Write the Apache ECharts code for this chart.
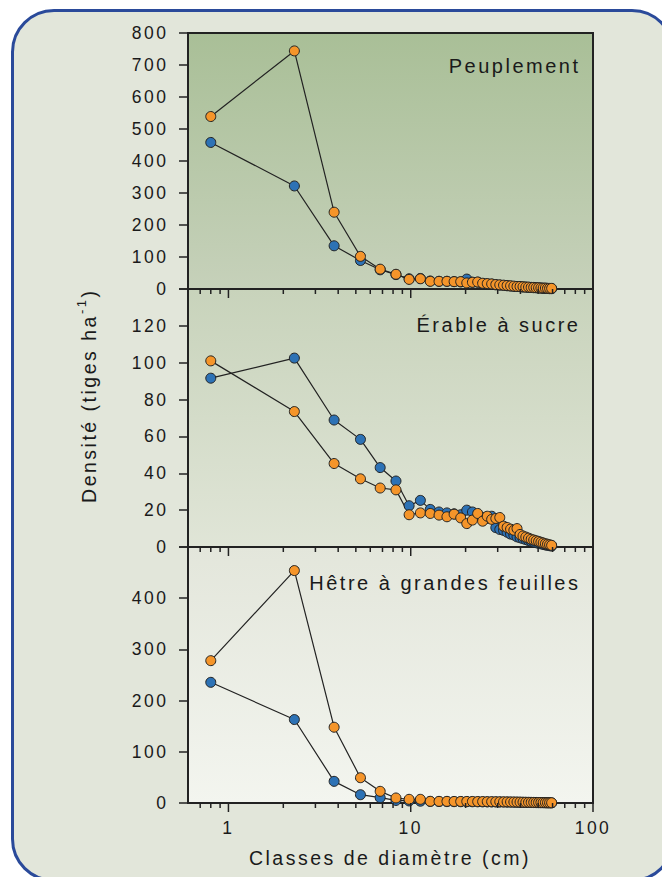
<!DOCTYPE html>
<html><head><meta charset="utf-8">
<script src="https://cdn.jsdelivr.net/npm/echarts@6/dist/echarts.min.js"></script>
<style>
html,body{margin:0;padding:0;background:#ffffff;overflow:hidden;width:662px;height:877px;}
#frame{position:absolute;left:11px;top:9px;width:664px;height:873px;box-sizing:border-box;border:3px solid #2a4a9a;border-radius:43px;background:#e2e6da;}
#chart{position:absolute;left:0;top:0;width:662px;height:877px;}
#chart text{letter-spacing:2.5px;}
</style></head><body>
<div id="frame"></div><div id="chart"></div>
<script>
// ---- data ----
const classes = [0.8, 2.3, 3.8, 5.3, 6.8, 8.3, 9.8, 11.3, 12.8, 14.3, 15.8, 17.3, 18.8, 20.3, 21.8, 23.3, 24.8, 26.3, 27.8, 29.3, 30.8, 32.3, 33.8, 35.3, 36.8, 38.3, 39.8, 41.3, 42.8, 44.3, 45.8, 47.3, 48.8, 50.3, 51.8, 53.3, 54.8, 56.3, 57.8, 59.3];

const peuplementBlue = [458, 322, 135, 89, 60, 45, 32, 33, 25, 24, 24, 23, 22, 31, 21, 21, 17, 16, 15, 13, 12, 11, 10, 9, 8, 8, 7, 6, 6, 5, 5, 4, 4, 3, 3, 2, 2, 2, 1, 1];
const peuplementOrange = [539, 744, 240, 102, 62, 46, 30, 32, 24, 24, 24, 23, 23, 19, 21, 22, 18, 17, 16, 14, 13, 12, 11, 10, 9, 8, 8, 7, 6, 6, 5, 5, 4, 4, 3, 3, 3, 2, 2, 2];

const erableBlue = [91.6, 102.5, 68.9, 58.4, 43.1, 35.8, 22.4, 25.3, 20.4, 19, 18.5, 18, 17.5, 20, 19, 17, 16, 15.5, 16.7, 10.5, 9.5, 9, 8, 7, 6.5, 5.5, 5, 4.5, 4, 3.5, 3.1, 2.7, 2.3, 2, 1.7, 1.4, 1.1, 0.9, 0.7, 0.5];
const erableOrange = [101, 73.5, 45.3, 37, 32, 31, 17.5, 18.5, 18.2, 17.3, 16.4, 17.8, 15.8, 12.7, 14.6, 18.2, 14, 16.7, 15, 15.5, 16, 11.3, 10.6, 9.7, 9.1, 10, 6.8, 6.0, 5.4, 4.8, 4.2, 3.8, 3.4, 3.0, 2.6, 2.2, 1.8, 1.5, 1.2, 0.9];

const hetreBlue = [235.7, 163, 42.3, 16.2, 10.4, 5, 4, 3.5, 3, 2.8, 2.7, 2.6, 2.5, 2.5, 2.4, 2.3, 2.2, 2.1, 2, 2, 1.9, 1.8, 1.7, 1.6, 1.5, 1.4, 1.3, 1.2, 1.1, 1, 0.9, 0.8, 0.7, 0.6, 0.5, 0.5, 0.4, 0.3, 0.3, 0.2];
const hetreOrange = [278, 454, 148, 49.4, 22.8, 9.8, 7.2, 7.2, 3.3, 3.2, 3.2, 3, 3, 3, 3, 2.8, 2.8, 2.6, 2.6, 2.5, 2.4, 2.3, 2.2, 2.1, 2, 1.9, 1.8, 1.6, 1.5, 1.4, 1.3, 1.2, 1.1, 1, 0.9, 0.8, 0.7, 0.6, 0.5, 0.5];

const panelNames = ['Peuplement', 'Érable à sucre', 'Hêtre à grandes feuilles'];
const yMax = [800, 140, 500];
const yStep = [100, 20, 100];
const xMin = 0.6, xMax = 100;
const xTickValues = [0.7, 0.8, 0.9, 1, 2, 3, 4, 5, 6, 7, 8, 9, 10, 20, 30, 40, 50, 60, 70, 80, 90, 100];
const xTitle = 'Classes de diamètre (cm)';
const yTitleMain = 'Densité (tiges ha';
const yTitleSup = '-1';
const yTitleEnd = ')';

// ---- layout / style ----
const FONT = '"Liberation Sans", Arial, sans-serif';
const LS = 2.5;
const TXT = '#1a1a1a';
const ORANGE = '#f5952a', BLUE = '#2d72b5';
const grids = [
  {left: 188, top: 33, width: 405, height: 256},
  {left: 188, top: 289, width: 405, height: 258},
  {left: 188, top: 547, width: 405, height: 256}
];
const bg = [
  ['#a9bf97', '#c6d1ba'],
  ['#c8d3bb', '#e0e5d7'],
  ['#e3e6db', '#f3f5ef']
];
const seriesData = [
  [peuplementBlue, peuplementOrange],
  [erableBlue, erableOrange],
  [hetreBlue, hetreOrange]
];
const isPow10 = v => Math.abs(Math.log10(v) - Math.round(Math.log10(v))) < 1e-6;

function textW(str, size) {
  const c = document.createElement('canvas').getContext('2d');
  c.font = size + 'px ' + FONT;
  let has = false;
  try { if ('letterSpacing' in c) { c.letterSpacing = LS + 'px'; has = true; } } catch (e) {}
  let w = c.measureText(str).width;
  if (!has) w += LS * str.length;
  return w;
}

const chart = echarts.init(document.getElementById('chart'), null, {renderer: 'svg', width: 662, height: 877});

const series = [];
grids.forEach((g, i) => {
  const [b, o] = seriesData[i];
  [[b, BLUE, 'blue'], [o, ORANGE, 'orange']].forEach(([arr, col, nm]) => {
    series.push({
      type: 'line', name: nm + i, xAxisIndex: i, yAxisIndex: i,
      data: classes.map((c, k) => [c, arr[k]]),
      symbol: 'circle', symbolSize: 10, showSymbol: true, showAllSymbol: true,
      lineStyle: {color: '#222', width: 1.2},
      itemStyle: {color: col, borderColor: '#222', borderWidth: 1},
      emphasis: {disabled: true}, silent: true, clip: false
    });
  });
  series.push({
    type: 'custom', xAxisIndex: i, yAxisIndex: i, silent: true, clip: false, z: 5,
    data: xTickValues.map(v => [v, 0]),
    encode: {x: 0, y: 1},
    renderItem: (params, api) => {
      const v = api.value(0);
      const p = api.coord([v, 0]);
      const len = isPow10(v) ? 9 : 5;
      return {type: 'line', shape: {x1: p[0], y1: p[1], x2: p[0], y2: p[1] + len},
              style: {stroke: '#222', lineWidth: 1.5}};
    }
  });
});

// y-axis title pieces
const yFs = 19.5, supFs = 13;
const wA = textW(yTitleMain, yFs), wB = textW(yTitleSup, supFs), wC = textW(yTitleEnd, yFs);
const tot = wA + wB + wC;
const st = -tot / 2 + LS / 2;

const option = {
  animation: false,
  textStyle: {fontFamily: FONT},
  grid: grids.map((g, i) => ({
    left: g.left, top: g.top, width: g.width, height: g.height,
    show: true, borderColor: '#222', borderWidth: 2,
    backgroundColor: {type: 'linear', x: 0, y: 0, x2: 0, y2: 1,
      colorStops: [{offset: 0, color: bg[i][0]}, {offset: 1, color: bg[i][1]}]},
    containLabel: false
  })),
  xAxis: grids.map((g, i) => ({
    type: 'log', logBase: 10, gridIndex: i, min: xMin, max: xMax,
    axisLine: {show: true, onZero: false, lineStyle: {color: '#222', width: 2}},
    axisTick: {show: false}, minorTick: {show: false},
    splitLine: {show: false}, minorSplitLine: {show: false},
    axisLabel: {show: i === 2, fontSize: 17.5, color: TXT, margin: 16, fontFamily: FONT,
      formatter: v => isPow10(v) ? String(Math.round(v)) : ''}
  })),
  yAxis: grids.map((g, i) => ({
    type: 'value', gridIndex: i, min: 0, max: yMax[i], interval: yStep[i],
    axisLine: {show: true, onZero: false, lineStyle: {color: '#222', width: 2}},
    axisTick: {show: true, length: 9, lineStyle: {color: '#222', width: 1.5}},
    splitLine: {show: false},
    axisLabel: {fontSize: 17.5, color: TXT, margin: 19.5, fontFamily: FONT,
      formatter: v => (i > 0 && v >= yMax[i]) ? '' : String(v)}
  })),
  graphic: [
    {type: 'text', x: 580.5, y: 66, z: 10, silent: true,
     style: {text: panelNames[0], font: '20px ' + FONT, fill: TXT, textAlign: 'right', textVerticalAlign: 'middle'}},
    {type: 'text', x: 580.5, y: 325, z: 10, silent: true,
     style: {text: panelNames[1], font: '20px ' + FONT, fill: TXT, textAlign: 'right', textVerticalAlign: 'middle'}},
    {type: 'text', x: 580.5, y: 583, z: 10, silent: true,
     style: {text: panelNames[2], font: '20px ' + FONT, fill: TXT, textAlign: 'right', textVerticalAlign: 'middle'}},
    {type: 'text', x: 390, y: 858, z: 10, silent: true,
     style: {text: xTitle, font: '19.5px ' + FONT, fill: TXT, textAlign: 'center', textVerticalAlign: 'middle'}},
    {type: 'group', x: 89, y: 397, rotation: Math.PI / 2, silent: true, z: 10,
     children: [
       {type: 'text', x: st, y: 0, style: {text: yTitleMain, font: yFs + 'px ' + FONT, fill: TXT, textAlign: 'left', textVerticalAlign: 'middle'}},
       {type: 'text', x: st + wA, y: -7.5, style: {text: yTitleSup, font: supFs + 'px ' + FONT, fill: TXT, textAlign: 'left', textVerticalAlign: 'middle'}},
       {type: 'text', x: st + wA + wB, y: 0, style: {text: yTitleEnd, font: yFs + 'px ' + FONT, fill: TXT, textAlign: 'left', textVerticalAlign: 'middle'}}
     ]}
  ],
  series: series
};
chart.setOption(option);
</script>
</body></html>
